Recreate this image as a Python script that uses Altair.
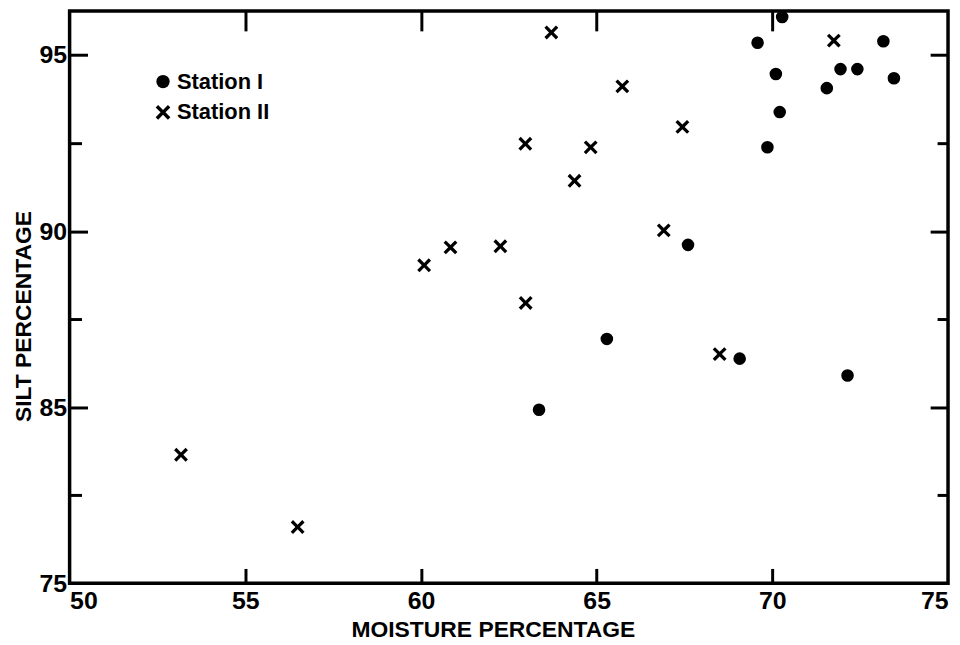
import math
import altair as alt
import pandas as pd

# ---- data ----
stations = ["Station I", "Station II"]

station1_moisture = [70.28, 69.58, 73.16, 70.10, 71.94, 72.42, 73.46, 71.55,
                     70.21, 69.86, 67.60, 69.07, 72.14, 65.29, 63.36]
station1_silt = [96.08, 95.35, 95.39, 94.46, 94.60, 94.60, 94.34, 94.06,
                 93.38, 92.38, 89.61, 86.38, 85.90, 86.94, 84.93]

station2_moisture = [53.17, 56.49, 63.71, 65.73, 62.97, 64.83, 64.37, 60.84,
                     62.26, 60.09, 62.98, 71.75, 67.44, 66.91, 68.50]
station2_silt = [83.65, 81.60, 95.64, 94.11, 92.48, 92.38, 91.43, 89.54,
                 89.57, 89.03, 87.96, 95.41, 92.96, 90.02, 86.51]

x_label_values = [50, 55, 60, 65, 70, 75]
x_inner_ticks = [55, 60, 65, 70]
y_label_values = [80, 85, 90, 95]
y_major_ticks = [85, 90, 95]
y_minor_ticks = [82.5, 87.5, 92.5]

df = pd.DataFrame({
    "moisture": station1_moisture + station2_moisture,
    "silt": station1_silt + station2_silt,
    "station": [stations[0]] * len(station1_moisture) + [stations[1]] * len(station2_moisture),
})

FONT = "Liberation Sans"
W, H = 884, 576


def x_symbol_path(arm=1.3, half=0.26):
    """Filled 'X' outline (a plus sign rotated by 45 degrees) in symbol space."""
    plus = [(-half, -arm), (half, -arm), (half, -half), (arm, -half), (arm, half),
            (half, half), (half, arm), (-half, arm), (-half, half), (-arm, half),
            (-arm, -half), (-half, -half)]
    r = 1 / math.sqrt(2)
    pts = [((x - y) * r, (x + y) * r) for x, y in plus]
    return "M" + "L".join(f"{x:.3f},{y:.3f}" for x, y in pts) + "Z"


X_PATH = x_symbol_path()

xs = alt.Scale(domain=[50, 75], nice=False, zero=False)
ys = alt.Scale(domain=[80, 96.25], nice=False, zero=False)

base = alt.Chart(df)

points = base.mark_point(
    filled=True, color="black", size=160, opacity=1
).encode(
    x=alt.X("moisture:Q", scale=xs, axis=alt.Axis(
        orient="bottom", values=x_label_values, ticks=False, domain=False, grid=False,
        labelFlush=True, labelPadding=5, format="d",
        title="MOISTURE PERCENTAGE", titleX=426, titlePadding=5)),
    y=alt.Y("silt:Q", scale=ys, axis=alt.Axis(
        orient="left", values=y_label_values, ticks=False, domain=False, grid=False,
        labelExpr="datum.value == 80 ? '75' : datum.label", labelPadding=3,
        title="SILT PERCENTAGE", titleY=307, titlePadding=4)),
    shape=alt.Shape("station:N", scale=alt.Scale(domain=stations, range=["circle", X_PATH]),
                    legend=alt.Legend(title=None, orient="none", legendX=83, legendY=60,
                                      symbolFillColor="black", symbolOpacity=1,
                                      symbolStrokeWidth=0)),
)


def tick_axis(orient, offset, values, size):
    return alt.Axis(orient=orient, offset=offset, values=values, labels=False,
                    domain=False, grid=False, ticks=True, tickSize=size,
                    tickWidth=3, tickColor="black", title=None)


def tick_layer(x_axis, y_axis):
    return base.mark_point(opacity=0).encode(
        x=alt.X("moisture:Q", scale=xs, axis=x_axis),
        y=alt.Y("silt:Q", scale=ys, axis=y_axis),
    )


layer2 = tick_layer(tick_axis("top", -H, x_inner_ticks, 15),
                    tick_axis("right", -W, y_major_ticks, 18))
layer3 = tick_layer(tick_axis("bottom", -H, x_inner_ticks, 20),
                    tick_axis("left", -W, y_major_ticks, 18))
layer4 = tick_layer(None, tick_axis("right", -W, y_minor_ticks, 12))
layer5 = tick_layer(None, tick_axis("left", -W, y_minor_ticks, 11))

chart = alt.layer(points, layer2, layer3, layer4, layer5).resolve_axis(
    x="independent", y="independent"
).properties(
    width=W, height=H,
    autosize=alt.AutoSizeParams(type="none"),
    padding={"left": 62, "top": 1, "right": 4, "bottom": 58},
    background="white",
).configure_view(
    stroke="black", strokeWidth=3.5
).configure_axis(
    labelFont=FONT, labelFontSize=25, labelFontWeight="bold", labelColor="black",
    titleFont=FONT, titleFontSize=23, titleFontWeight="bold", titleColor="black",
).configure_legend(
    labelFont=FONT, labelFontSize=22, labelFontWeight="bold", labelColor="black",
    symbolSize=180, rowPadding=9, padding=0, labelOffset=3,
)

chart.save("out.html", embed_options={"renderer": "svg", "actions": False})
